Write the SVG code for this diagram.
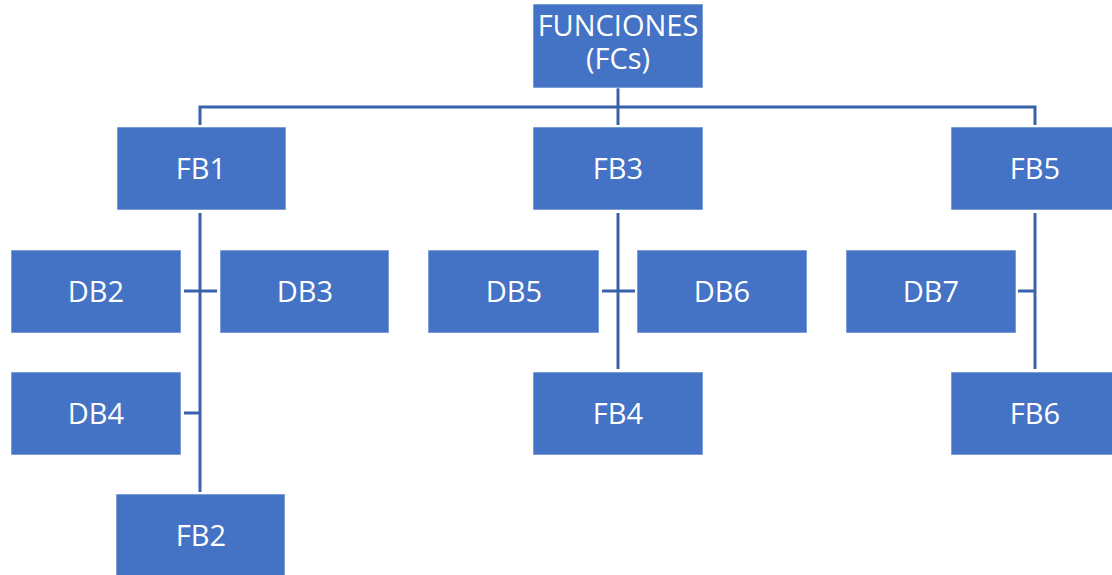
<svg xmlns="http://www.w3.org/2000/svg" width="1112" height="575" viewBox="0 0 1112 575">
  <style>
    .box { fill: #4472C4; stroke: #ffffff; stroke-opacity: 0.6; stroke-width: 1; }
    .lbl { font-family: "Open Sans", "Liberation Sans", sans-serif; font-size: 29px; fill: #ffffff; text-anchor: middle; }
    .link { fill: none; stroke: #3862AA; stroke-width: 3; }
  </style>
  <rect width="1112" height="575" fill="#ffffff"/>

  <!-- connectors -->
  <g id="connectors">
    <path class="link" d="M200 125 V107 H1035 V125"/>
    <path class="link" d="M618 88 V125"/>
    <path class="link" d="M200 213 V492"/>
    <path class="link" d="M184 291 H217"/>
    <path class="link" d="M184 413 H201"/>
    <path class="link" d="M618 213 V369"/>
    <path class="link" d="M602 291 H635"/>
    <path class="link" d="M1035 213 V369"/>
    <path class="link" d="M1018 291 H1035"/>
  </g>

  <g id="funciones">
    <rect class="box" x="533" y="4" width="170" height="84"/>
    <text class="lbl" x="618" y="36">FUNCIONES<tspan x="618" dy="33">(FCs)</tspan></text>
  </g>
  <g id="fb1">
    <rect class="box" x="117" y="127" width="169" height="83"/>
    <text class="lbl" x="201" y="179">FB1</text>
  </g>
  <g id="fb3">
    <rect class="box" x="533" y="127" width="170" height="83"/>
    <text class="lbl" x="618" y="179">FB3</text>
  </g>
  <g id="fb5">
    <rect class="box" x="951" y="127" width="169" height="83"/>
    <text class="lbl" x="1035" y="179">FB5</text>
  </g>
  <g id="db2">
    <rect class="box" x="11" y="250" width="170" height="83"/>
    <text class="lbl" x="96" y="302">DB2</text>
  </g>
  <g id="db3">
    <rect class="box" x="220" y="250" width="169" height="83"/>
    <text class="lbl" x="305" y="302">DB3</text>
  </g>
  <g id="db5">
    <rect class="box" x="428" y="250" width="171" height="83"/>
    <text class="lbl" x="514" y="302">DB5</text>
  </g>
  <g id="db6">
    <rect class="box" x="637" y="250" width="170" height="83"/>
    <text class="lbl" x="722" y="302">DB6</text>
  </g>
  <g id="db7">
    <rect class="box" x="846" y="250" width="170" height="83"/>
    <text class="lbl" x="931" y="302">DB7</text>
  </g>
  <g id="db4">
    <rect class="box" x="11" y="372" width="170" height="83"/>
    <text class="lbl" x="96" y="424">DB4</text>
  </g>
  <g id="fb4">
    <rect class="box" x="533" y="372" width="170" height="83"/>
    <text class="lbl" x="618" y="424">FB4</text>
  </g>
  <g id="fb6">
    <rect class="box" x="951" y="372" width="169" height="83"/>
    <text class="lbl" x="1035" y="424">FB6</text>
  </g>
  <g id="fb2">
    <rect class="box" x="116" y="494" width="169" height="90"/>
    <text class="lbl" x="201" y="546">FB2</text>
  </g>
</svg>
